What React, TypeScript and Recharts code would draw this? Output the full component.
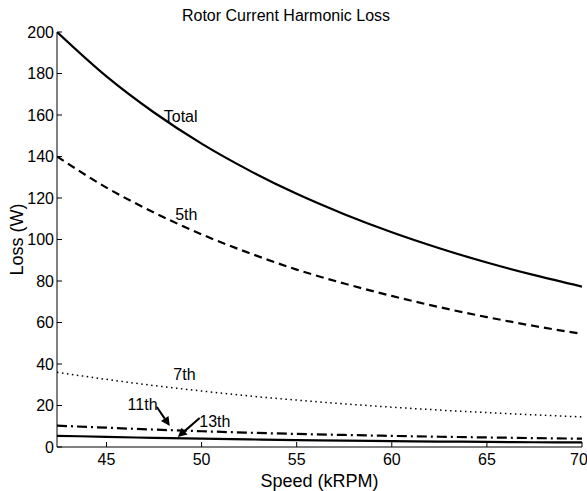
import React from 'react';
import {
  LineChart,
  Line,
  XAxis,
  YAxis,
  ReferenceDot,
  ReferenceLine,
  Label,
  Customized,
} from 'recharts';

const speeds = [42.4, 45, 47.5, 50, 52.5, 55, 57.5, 60, 62.5, 65, 67.5, 70];
const totalLoss = [200, 178.6, 161.2, 146.2, 133.3, 122, 112.2, 103.5, 95.8, 88.9, 82.8, 77.3];
const fifthLoss = [140, 125, 113, 102.5, 93.5, 85.5, 78.8, 72.8, 67.4, 62.6, 58.3, 54.5];
const seventhLoss = [36, 32.6, 29.6, 27, 24.6, 22.6, 20.8, 19.2, 17.8, 16.6, 15.5, 14.5];
const eleventhLoss = [10.3, 9.3, 8.4, 7.6, 6.9, 6.3, 5.8, 5.35, 4.95, 4.6, 4.3, 4.0];
const thirteenthLoss = [5.4, 4.9, 4.4, 4.0, 3.65, 3.35, 3.08, 2.84, 2.63, 2.45, 2.3, 2.2];

const xTicks = [45, 50, 55, 60, 65, 70];
const yTicks = [0, 20, 40, 60, 80, 100, 120, 140, 160, 180, 200];

const titleText = 'Rotor Current Harmonic Loss';
const xLabelText = 'Speed (kRPM)';
const yLabelText = 'Loss (W)';

// annotation anchors (data coordinates)
const labelTotal = { x: 48.9, y: 159.5, text: 'Total' };
const label5th = { x: 49.2, y: 112, text: '5th' };
const label7th = { x: 49.1, y: 35, text: '7th' };
const label11th = { x: 46.9, y: 20.7, text: '11th' };
const label13th = { x: 50.7, y: 12.5, text: '13th' };
const arrow11 = [{ x: 47.65, y: 19.3 }, { x: 48.33, y: 10.1 }];
const arrow13 = [{ x: 49.9, y: 14.0 }, { x: 48.75, y: 4.8 }];

const data = speeds.map((s, i) => ({
  speed: s,
  total: totalLoss[i],
  fifth: fifthLoss[i],
  seventh: seventhLoss[i],
  eleventh: eleventhLoss[i],
  thirteenth: thirteenthLoss[i],
}));

const FONT = '"Liberation Sans", Arial, Helvetica, sans-serif';

const ArrowShape = (props: any) => {
  const { x1, y1, x2, y2 } = props;
  if ([x1, y1, x2, y2].some((v) => v == null || isNaN(v))) return null;
  const ang = Math.atan2(y2 - y1, x2 - x1);
  const len = 9;
  const wid = 4.5;
  const bx = x2 - len * Math.cos(ang);
  const by = y2 - len * Math.sin(ang);
  const px = -Math.sin(ang) * wid;
  const py = Math.cos(ang) * wid;
  return (
    <g>
      <line x1={x1} y1={y1} x2={bx} y2={by} stroke="#000" strokeWidth={2} />
      <polygon
        points={`${x2},${y2} ${bx + px},${by + py} ${bx - px},${by - py}`}
        fill="#000"
      />
    </g>
  );
};

const annotation = (a: { x: number; y: number; text: string }) => (
  <ReferenceDot
    key={a.text}
    x={a.x}
    y={a.y}
    r={0}
    fill="none"
    stroke="none"
    ifOverflow="visible"
    label={{
      value: a.text,
      position: 'center',
      fill: '#000',
      fontSize: 16,
      fontFamily: FONT,
    }}
  />
);

const Title = () => (
  <text
    x={286}
    y={21}
    textAnchor="middle"
    fontSize={16}
    fontFamily={FONT}
    fill="#000"
  >
    {titleText}
  </text>
);

export default function App() {
  const tickStyle = { fill: '#000', fontSize: 16, fontFamily: FONT };
  return (
    <div style={{ position: 'absolute', left: 0, top: 0, background: '#fff' }}>
      <LineChart
        width={587}
        height={491}
        data={data}
        margin={{ top: 32, right: 5, left: 0, bottom: 0 }}
      >
        <XAxis
          dataKey="speed"
          type="number"
          domain={[42.4, 70]}
          ticks={xTicks}
          allowDataOverflow
          height={44}
          tickSize={-5}
          tickMargin={12}
          tick={tickStyle}
          stroke="#000"
        >
          <Label
            value={xLabelText}
            position="insideBottom"
            offset={4}
            fill="#000"
            fontSize={18}
            fontFamily={FONT}
          />
        </XAxis>
        <XAxis
          xAxisId="top"
          orientation="top"
          dataKey="speed"
          type="number"
          domain={[42.4, 70]}
          ticks={xTicks}
          allowDataOverflow
          height={0}
          tickSize={-5}
          tick={false}
          stroke="#000"
        />
        <YAxis
          type="number"
          domain={[0, 200]}
          ticks={yTicks}
          allowDataOverflow
          width={57}
          tickSize={-5}
          tickMargin={8}
          tick={tickStyle}
          stroke="#000"
        >
          <Label
            content={(p: any) => {
              const vb = p.viewBox || {};
              const cx = 17;
              const cy = (vb.y ?? 32) + (vb.height ?? 415) / 2;
              return (
                <text
                  x={cx}
                  y={cy}
                  transform={`rotate(-90 ${cx} ${cy})`}
                  textAnchor="middle"
                  dominantBaseline="central"
                  fontSize={18}
                  fontFamily={FONT}
                  fill="#000"
                >
                  {yLabelText}
                </text>
              );
            }}
          />
        </YAxis>
        <YAxis
          yAxisId="right"
          orientation="right"
          type="number"
          domain={[0, 200]}
          ticks={yTicks}
          allowDataOverflow
          width={0}
          tickSize={-5}
          tick={false}
          stroke="#000"
        />
        <Line
          type="monotone"
          dataKey="total"
          stroke="#000"
          strokeWidth={2.2}
          dot={false}
          isAnimationActive={false}
        />
        <Line
          type="monotone"
          dataKey="fifth"
          stroke="#000"
          strokeWidth={2.2}
          strokeDasharray="8 5"
          dot={false}
          isAnimationActive={false}
        />
        <Line
          type="monotone"
          dataKey="seventh"
          stroke="#000"
          strokeWidth={1.5}
          strokeDasharray="1.5 3.5"
          dot={false}
          isAnimationActive={false}
        />
        <Line
          type="monotone"
          dataKey="eleventh"
          stroke="#000"
          strokeWidth={2.2}
          strokeDasharray="10 4 2 4"
          dot={false}
          isAnimationActive={false}
        />
        <Line
          type="monotone"
          dataKey="thirteenth"
          stroke="#000"
          strokeWidth={2.2}
          dot={false}
          isAnimationActive={false}
        />
        {annotation(labelTotal)}
        {annotation(label5th)}
        {annotation(label7th)}
        {annotation(label11th)}
        {annotation(label13th)}
        <ReferenceLine
          segment={arrow11}
          ifOverflow="visible"
          shape={ArrowShape}
        />
        <ReferenceLine
          segment={arrow13}
          ifOverflow="visible"
          shape={ArrowShape}
        />
        <Customized component={Title} />
      </LineChart>
    </div>
  );
}
